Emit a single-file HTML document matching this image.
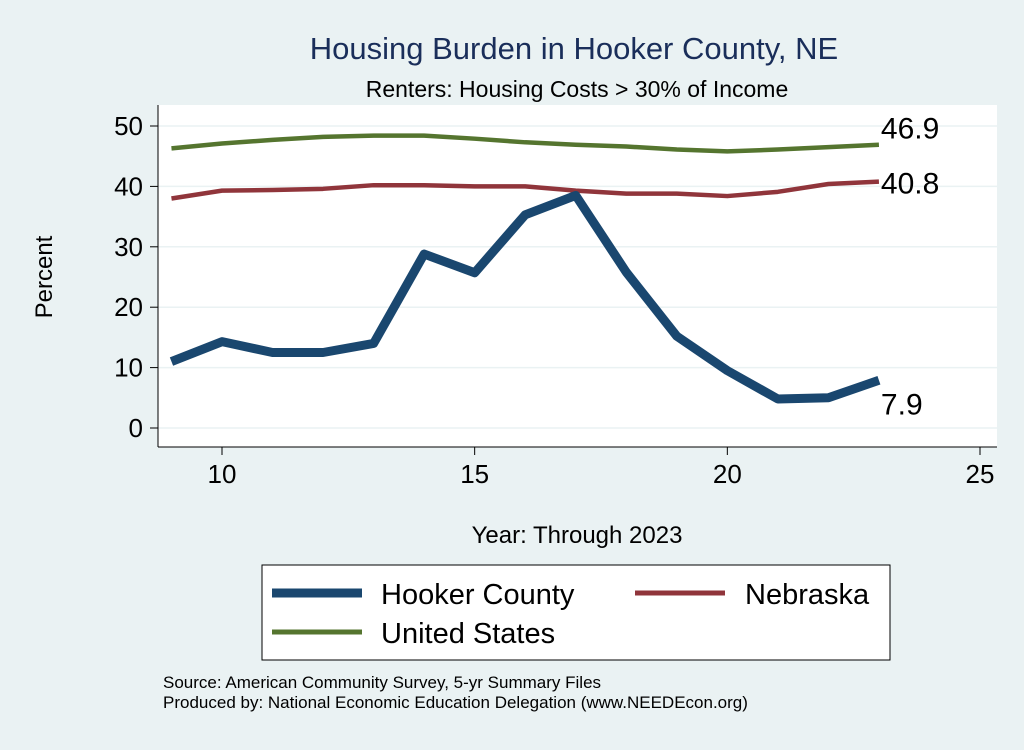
<!DOCTYPE html>
<html><head><meta charset="utf-8"><style>
body{margin:0;background:#eaf2f3;font-family:"Liberation Sans",sans-serif}
svg text{font-family:"Liberation Sans",sans-serif}
</style></head><body>
<svg width="1024" height="745">
<rect x="0" y="0" width="1024" height="745" fill="#eaf2f3"/>
<text x="574" y="59" font-size="31" fill="#1a2e5a" text-anchor="middle">Housing Burden in Hooker County, NE</text>
<text x="577" y="97" font-size="23" fill="#000" text-anchor="middle">Renters: Housing Costs &gt; 30% of Income</text>
<rect x="158" y="105" width="839" height="342" fill="#fff"/>
<g id="grid"></g><g id="axes"></g><g id="series"></g>
<text x="52" y="277" font-size="24" text-anchor="middle" transform="rotate(-90 52 277)">Percent</text>
<text x="577" y="543" font-size="24" text-anchor="middle">Year: Through 2023</text>
<g>
<rect x="262" y="565" width="628" height="95" fill="#fff" stroke="#000" stroke-width="1"/>
<line x1="272" y1="593" x2="362" y2="593" stroke="#1a476f" stroke-width="9"/>
<text x="381" y="604" font-size="29">Hooker County</text>
<line x1="635" y1="593" x2="725" y2="593" stroke="#90353b" stroke-width="5"/>
<text x="745" y="604" font-size="29">Nebraska</text>
<line x1="272" y1="632" x2="362" y2="632" stroke="#55752f" stroke-width="5"/>
<text x="381" y="643" font-size="29">United States</text>
</g>
<text x="163" y="688" font-size="17">Source: American Community Survey, 5-yr Summary Files</text>
<text x="163" y="708" font-size="17">Produced by: National Economic Education Delegation (www.NEEDEcon.org)</text>
</svg>
<script>
const years=[9,10,11,12,13,14,15,16,17,18,19,20,21,22,23];
const hooker=[11,14.3,12.5,12.5,14,28.8,25.7,35.3,38.5,25.8,15.2,9.5,4.8,5,7.9];
const nebraska=[38,39.3,39.4,39.6,40.2,40.2,40,40,39.3,38.8,38.8,38.4,39.1,40.4,40.8];
const us=[46.3,47.1,47.7,48.2,48.4,48.4,47.9,47.3,46.9,46.6,46.1,45.8,46.1,46.5,46.9];
const yTicks=[0,10,20,30,40,50];
const xTicks=[10,15,20,25];
const NS="http://www.w3.org/2000/svg";
const xs=v=>222+(v-10)*(980-222)/15;
const ys=v=>428-v*(428-126)/50;
function mk(tag,attrs,parent,text){const e=document.createElementNS(NS,tag);for(const k in attrs)e.setAttribute(k,attrs[k]);if(text!==undefined)e.textContent=text;document.getElementById(parent).appendChild(e);return e;}
yTicks.forEach(t=>{
 const g=mk('line',{x1:158,x2:997,y1:ys(t),y2:ys(t),stroke:'#eaf2f3','stroke-width':1.5},'grid');
 
 
 const tk=mk('line',{x1:150,x2:158,y1:ys(t),y2:ys(t),stroke:'#000'},'axes');
 
 
 const l=mk('text',{x:143,y:ys(t)+9,'font-size':26,'text-anchor':'end'},'axes',t);
 
 
});
xTicks.forEach(t=>{
 const tk=mk('line',{x1:xs(t),x2:xs(t),y1:447,y2:455,stroke:'#000'},'axes');
 
 
 const l=mk('text',{x:xs(t),y:483,'font-size':26,'text-anchor':'middle'},'axes',t);
 
 
});
const ax=mk('line',{x1:158,x2:158,y1:105,y2:447,stroke:'#000'},'axes');


const bx=mk('line',{x1:158,x2:997,y1:447,y2:447,stroke:'#000'},'axes');


function series(vals,color,w,name,dy){
 const p=mk('polyline',{points:vals.map((v,i)=>xs(years[i])+','+ys(v)).join(' '),fill:'none',stroke:color,'stroke-width':w,'stroke-linejoin':'round'},'series');
 
 
 const last=vals[vals.length-1];
 const l=mk('text',{x:xs(years[years.length-1])+2,y:ys(last)+dy,'font-size':30},'series',last.toFixed(1));
 
 
}
series(us,'#55752f',4.5,'us',-6);
series(nebraska,'#90353b',4.5,'nebraska',12);
series(hooker,'#1a476f',9,'hooker',34);
</script>
</body></html>
